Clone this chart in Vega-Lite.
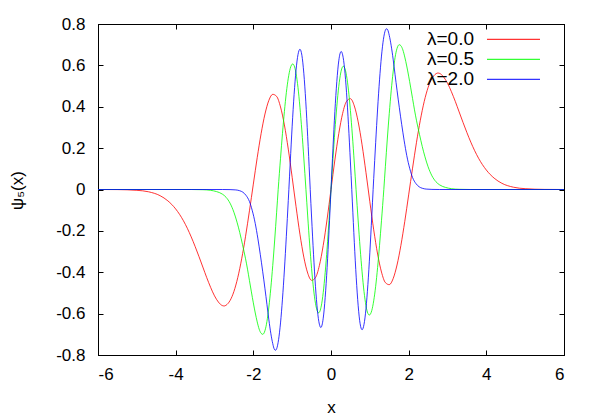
{
  "$schema": "https://vega.github.io/schema/vega-lite/v6.json",
  "width": 466,
  "height": 331,
  "autosize": {"type": "none"},
  "padding": {"left": 98, "top": 24, "right": 36, "bottom": 65},
  "background": "white",
  "config": {
    "view": {"stroke": "black", "strokeWidth": 1},
    "font": "Liberation Sans",
    "axis": {
      "grid": false,
      "domainColor": "black",
      "tickColor": "black",
      "tickSize": -5,
      "labelFont": "Liberation Sans",
      "labelFontSize": 17,
      "labelColor": "black",
      "titleFont": "Liberation Sans",
      "titleFontSize": 17,
      "titleFontWeight": "normal",
      "titleColor": "black"
    },
    "legend": {
      "orient": "none",
      "legendX": 405.5,
      "legendY": 5.3,
      "padding": 0,
      "title": null,
      "symbolType": "M-2.79,0H2.79",
      "symbolSize": 361,
      "symbolStrokeWidth": 1,
      "labelAlign": "right",
      "labelOffset": -49.5,
      "labelFont": "Liberation Sans",
      "labelFontSize": 19,
      "labelColor": "black",
      "labelLimit": 0,
      "rowPadding": 0
    }
  },
  "data": {"values": [
    {"s":"λ=0.0","x":-6,"y":0},{"s":"λ=0.0","x":-5.5,"y":-0.0005},{"s":"λ=0.0","x":-5,"y":-0.004},{"s":"λ=0.0","x":-4.7,"y":-0.011},{"s":"λ=0.0","x":-4.4,"y":-0.03},{"s":"λ=0.0","x":-4.2,"y":-0.055},{"s":"λ=0.0","x":-4,"y":-0.094},{"s":"λ=0.0","x":-3.8,"y":-0.151},{"s":"λ=0.0","x":-3.6,"y":-0.229},{"s":"λ=0.0","x":-3.5,"y":-0.275},{"s":"λ=0.0","x":-3.4,"y":-0.324},{"s":"λ=0.0","x":-3.3,"y":-0.375},{"s":"λ=0.0","x":-3.2,"y":-0.426},{"s":"λ=0.0","x":-3.1,"y":-0.473},{"s":"λ=0.0","x":-3,"y":-0.514},{"s":"λ=0.0","x":-2.9,"y":-0.544},{"s":"λ=0.0","x":-2.8,"y":-0.561},{"s":"λ=0.0","x":-2.75,"y":-0.563},{"s":"λ=0.0","x":-2.7,"y":-0.559},{"s":"λ=0.0","x":-2.6,"y":-0.537},{"s":"λ=0.0","x":-2.5,"y":-0.493},{"s":"λ=0.0","x":-2.4,"y":-0.425},{"s":"λ=0.0","x":-2.3,"y":-0.335},{"s":"λ=0.0","x":-2.2,"y":-0.226},{"s":"λ=0.0","x":-2.1,"y":-0.103},{"s":"λ=0.0","x":-2,"y":0.026},{"s":"λ=0.0","x":-1.9,"y":0.154},{"s":"λ=0.0","x":-1.8,"y":0.27},{"s":"λ=0.0","x":-1.7,"y":0.365},{"s":"λ=0.0","x":-1.6,"y":0.431},{"s":"λ=0.0","x":-1.5,"y":0.46},{"s":"λ=0.0","x":-1.4,"y":0.45},{"s":"λ=0.0","x":-1.3,"y":0.399},{"s":"λ=0.0","x":-1.2,"y":0.312},{"s":"λ=0.0","x":-1.1,"y":0.195},{"s":"λ=0.0","x":-1,"y":0.059},{"s":"λ=0.0","x":-0.9,"y":-0.083},{"s":"λ=0.0","x":-0.8,"y":-0.216},{"s":"λ=0.0","x":-0.7,"y":-0.327},{"s":"λ=0.0","x":-0.6,"y":-0.404},{"s":"λ=0.0","x":-0.5,"y":-0.439},{"s":"λ=0.0","x":-0.4,"y":-0.426},{"s":"λ=0.0","x":-0.3,"y":-0.368},{"s":"λ=0.0","x":-0.2,"y":-0.27},{"s":"λ=0.0","x":-0.1,"y":-0.143},{"s":"λ=0.0","x":0,"y":0},{"s":"λ=0.0","x":0.1,"y":0.143},{"s":"λ=0.0","x":0.2,"y":0.27},{"s":"λ=0.0","x":0.3,"y":0.368},{"s":"λ=0.0","x":0.4,"y":0.426},{"s":"λ=0.0","x":0.5,"y":0.439},{"s":"λ=0.0","x":0.6,"y":0.404},{"s":"λ=0.0","x":0.7,"y":0.327},{"s":"λ=0.0","x":0.8,"y":0.216},{"s":"λ=0.0","x":0.9,"y":0.083},{"s":"λ=0.0","x":1,"y":-0.059},{"s":"λ=0.0","x":1.1,"y":-0.195},{"s":"λ=0.0","x":1.2,"y":-0.312},{"s":"λ=0.0","x":1.3,"y":-0.399},{"s":"λ=0.0","x":1.4,"y":-0.45},{"s":"λ=0.0","x":1.5,"y":-0.46},{"s":"λ=0.0","x":1.6,"y":-0.431},{"s":"λ=0.0","x":1.7,"y":-0.365},{"s":"λ=0.0","x":1.8,"y":-0.27},{"s":"λ=0.0","x":1.9,"y":-0.154},{"s":"λ=0.0","x":2,"y":-0.026},{"s":"λ=0.0","x":2.1,"y":0.103},{"s":"λ=0.0","x":2.2,"y":0.226},{"s":"λ=0.0","x":2.3,"y":0.335},{"s":"λ=0.0","x":2.4,"y":0.425},{"s":"λ=0.0","x":2.5,"y":0.493},{"s":"λ=0.0","x":2.6,"y":0.537},{"s":"λ=0.0","x":2.7,"y":0.559},{"s":"λ=0.0","x":2.75,"y":0.563},{"s":"λ=0.0","x":2.8,"y":0.561},{"s":"λ=0.0","x":2.9,"y":0.544},{"s":"λ=0.0","x":3,"y":0.514},{"s":"λ=0.0","x":3.1,"y":0.473},{"s":"λ=0.0","x":3.2,"y":0.426},{"s":"λ=0.0","x":3.3,"y":0.375},{"s":"λ=0.0","x":3.4,"y":0.324},{"s":"λ=0.0","x":3.5,"y":0.275},{"s":"λ=0.0","x":3.6,"y":0.229},{"s":"λ=0.0","x":3.8,"y":0.151},{"s":"λ=0.0","x":4,"y":0.094},{"s":"λ=0.0","x":4.2,"y":0.055},{"s":"λ=0.0","x":4.4,"y":0.03},{"s":"λ=0.0","x":4.7,"y":0.011},{"s":"λ=0.0","x":5,"y":0.004},{"s":"λ=0.0","x":5.5,"y":0.0005},{"s":"λ=0.0","x":6,"y":0},

    {"s":"λ=0.5","x":-6,"y":0},{"s":"λ=0.5","x":-3.6,"y":0},{"s":"λ=0.5","x":-3.3,"y":-0.001},{"s":"λ=0.5","x":-3.1,"y":-0.004},{"s":"λ=0.5","x":-2.95,"y":-0.01},{"s":"λ=0.5","x":-2.8,"y":-0.022},{"s":"λ=0.5","x":-2.7,"y":-0.038},{"s":"λ=0.5","x":-2.6,"y":-0.066},{"s":"λ=0.5","x":-2.5,"y":-0.11},{"s":"λ=0.5","x":-2.42,"y":-0.158},{"s":"λ=0.5","x":-2.35,"y":-0.208},{"s":"λ=0.5","x":-2.28,"y":-0.265},{"s":"λ=0.5","x":-2.2,"y":-0.335},{"s":"λ=0.5","x":-2.15,"y":-0.385},{"s":"λ=0.5","x":-2.1,"y":-0.44},{"s":"λ=0.5","x":-2.05,"y":-0.495},{"s":"λ=0.5","x":-2,"y":-0.548},{"s":"λ=0.5","x":-1.95,"y":-0.597},{"s":"λ=0.5","x":-1.9,"y":-0.64},{"s":"λ=0.5","x":-1.85,"y":-0.675},{"s":"λ=0.5","x":-1.8,"y":-0.695},{"s":"λ=0.5","x":-1.758,"y":-0.7},{"s":"λ=0.5","x":-1.7,"y":-0.682},{"s":"λ=0.5","x":-1.65,"y":-0.638},{"s":"λ=0.5","x":-1.6,"y":-0.568},{"s":"λ=0.5","x":-1.55,"y":-0.477},{"s":"λ=0.5","x":-1.5,"y":-0.367},{"s":"λ=0.5","x":-1.45,"y":-0.244},{"s":"λ=0.5","x":-1.4,"y":-0.11},{"s":"λ=0.5","x":-1.36,"y":0},{"s":"λ=0.5","x":-1.3,"y":0.151},{"s":"λ=0.5","x":-1.25,"y":0.27},{"s":"λ=0.5","x":-1.2,"y":0.377},{"s":"λ=0.5","x":-1.15,"y":0.468},{"s":"λ=0.5","x":-1.1,"y":0.538},{"s":"λ=0.5","x":-1.05,"y":0.585},{"s":"λ=0.5","x":-0.985,"y":0.607},{"s":"λ=0.5","x":-0.95,"y":0.599},{"s":"λ=0.5","x":-0.9,"y":0.561},{"s":"λ=0.5","x":-0.85,"y":0.493},{"s":"λ=0.5","x":-0.8,"y":0.398},{"s":"λ=0.5","x":-0.75,"y":0.283},{"s":"λ=0.5","x":-0.7,"y":0.152},{"s":"λ=0.5","x":-0.645,"y":0},{"s":"λ=0.5","x":-0.6,"y":-0.128},{"s":"λ=0.5","x":-0.55,"y":-0.263},{"s":"λ=0.5","x":-0.5,"y":-0.382},{"s":"λ=0.5","x":-0.45,"y":-0.48},{"s":"λ=0.5","x":-0.4,"y":-0.55},{"s":"λ=0.5","x":-0.35,"y":-0.589},{"s":"λ=0.5","x":-0.318,"y":-0.596},{"s":"λ=0.5","x":-0.25,"y":-0.563},{"s":"λ=0.5","x":-0.2,"y":-0.498},{"s":"λ=0.5","x":-0.15,"y":-0.402},{"s":"λ=0.5","x":-0.1,"y":-0.283},{"s":"λ=0.5","x":-0.05,"y":-0.146},{"s":"λ=0.5","x":0,"y":0},{"s":"λ=0.5","x":0.05,"y":0.146},{"s":"λ=0.5","x":0.1,"y":0.283},{"s":"λ=0.5","x":0.15,"y":0.402},{"s":"λ=0.5","x":0.2,"y":0.498},{"s":"λ=0.5","x":0.25,"y":0.563},{"s":"λ=0.5","x":0.318,"y":0.596},{"s":"λ=0.5","x":0.35,"y":0.589},{"s":"λ=0.5","x":0.4,"y":0.55},{"s":"λ=0.5","x":0.45,"y":0.48},{"s":"λ=0.5","x":0.5,"y":0.382},{"s":"λ=0.5","x":0.55,"y":0.263},{"s":"λ=0.5","x":0.6,"y":0.128},{"s":"λ=0.5","x":0.645,"y":0},{"s":"λ=0.5","x":0.7,"y":-0.152},{"s":"λ=0.5","x":0.75,"y":-0.283},{"s":"λ=0.5","x":0.8,"y":-0.398},{"s":"λ=0.5","x":0.85,"y":-0.493},{"s":"λ=0.5","x":0.9,"y":-0.561},{"s":"λ=0.5","x":0.95,"y":-0.599},{"s":"λ=0.5","x":0.985,"y":-0.607},{"s":"λ=0.5","x":1.05,"y":-0.585},{"s":"λ=0.5","x":1.1,"y":-0.538},{"s":"λ=0.5","x":1.15,"y":-0.468},{"s":"λ=0.5","x":1.2,"y":-0.377},{"s":"λ=0.5","x":1.25,"y":-0.27},{"s":"λ=0.5","x":1.3,"y":-0.151},{"s":"λ=0.5","x":1.36,"y":0},{"s":"λ=0.5","x":1.4,"y":0.11},{"s":"λ=0.5","x":1.45,"y":0.244},{"s":"λ=0.5","x":1.5,"y":0.367},{"s":"λ=0.5","x":1.55,"y":0.477},{"s":"λ=0.5","x":1.6,"y":0.568},{"s":"λ=0.5","x":1.65,"y":0.638},{"s":"λ=0.5","x":1.7,"y":0.682},{"s":"λ=0.5","x":1.758,"y":0.7},{"s":"λ=0.5","x":1.8,"y":0.695},{"s":"λ=0.5","x":1.85,"y":0.675},{"s":"λ=0.5","x":1.9,"y":0.64},{"s":"λ=0.5","x":1.95,"y":0.597},{"s":"λ=0.5","x":2,"y":0.548},{"s":"λ=0.5","x":2.05,"y":0.495},{"s":"λ=0.5","x":2.1,"y":0.44},{"s":"λ=0.5","x":2.15,"y":0.385},{"s":"λ=0.5","x":2.2,"y":0.335},{"s":"λ=0.5","x":2.28,"y":0.265},{"s":"λ=0.5","x":2.35,"y":0.208},{"s":"λ=0.5","x":2.42,"y":0.158},{"s":"λ=0.5","x":2.5,"y":0.11},{"s":"λ=0.5","x":2.6,"y":0.066},{"s":"λ=0.5","x":2.7,"y":0.038},{"s":"λ=0.5","x":2.8,"y":0.022},{"s":"λ=0.5","x":2.95,"y":0.01},{"s":"λ=0.5","x":3.1,"y":0.004},{"s":"λ=0.5","x":3.3,"y":0.001},{"s":"λ=0.5","x":3.6,"y":0},{"s":"λ=0.5","x":6,"y":0},

    {"s":"λ=2.0","x":-6,"y":0},{"s":"λ=2.0","x":-2.8,"y":0},{"s":"λ=2.0","x":-2.6,"y":-0.0005},{"s":"λ=2.0","x":-2.45,"y":-0.002},{"s":"λ=2.0","x":-2.35,"y":-0.006},{"s":"λ=2.0","x":-2.27,"y":-0.013},{"s":"λ=2.0","x":-2.19,"y":-0.028},{"s":"λ=2.0","x":-2.1,"y":-0.058},{"s":"λ=2.0","x":-2.03,"y":-0.1},{"s":"λ=2.0","x":-1.95,"y":-0.165},{"s":"λ=2.0","x":-1.885,"y":-0.235},{"s":"λ=2.0","x":-1.82,"y":-0.315},{"s":"λ=2.0","x":-1.76,"y":-0.395},{"s":"λ=2.0","x":-1.7,"y":-0.48},{"s":"λ=2.0","x":-1.65,"y":-0.555},{"s":"λ=2.0","x":-1.6,"y":-0.63},{"s":"λ=2.0","x":-1.55,"y":-0.695},{"s":"λ=2.0","x":-1.5,"y":-0.745},{"s":"λ=2.0","x":-1.46,"y":-0.772},{"s":"λ=2.0","x":-1.43,"y":-0.777},{"s":"λ=2.0","x":-1.4,"y":-0.77},{"s":"λ=2.0","x":-1.35,"y":-0.726},{"s":"λ=2.0","x":-1.3,"y":-0.645},{"s":"λ=2.0","x":-1.25,"y":-0.53},{"s":"λ=2.0","x":-1.2,"y":-0.389},{"s":"λ=2.0","x":-1.15,"y":-0.226},{"s":"λ=2.0","x":-1.1,"y":-0.053},{"s":"λ=2.0","x":-1.085,"y":0},{"s":"λ=2.0","x":-1.05,"y":0.129},{"s":"λ=2.0","x":-1,"y":0.306},{"s":"λ=2.0","x":-0.95,"y":0.459},{"s":"λ=2.0","x":-0.9,"y":0.578},{"s":"λ=2.0","x":-0.85,"y":0.652},{"s":"λ=2.0","x":-0.8,"y":0.678},{"s":"λ=2.0","x":-0.75,"y":0.649},{"s":"λ=2.0","x":-0.7,"y":0.562},{"s":"λ=2.0","x":-0.65,"y":0.427},{"s":"λ=2.0","x":-0.6,"y":0.255},{"s":"λ=2.0","x":-0.55,"y":0.06},{"s":"λ=2.0","x":-0.535,"y":0},{"s":"λ=2.0","x":-0.5,"y":-0.133},{"s":"λ=2.0","x":-0.45,"y":-0.313},{"s":"λ=2.0","x":-0.4,"y":-0.468},{"s":"λ=2.0","x":-0.35,"y":-0.584},{"s":"λ=2.0","x":-0.3,"y":-0.651},{"s":"λ=2.0","x":-0.262,"y":-0.667},{"s":"λ=2.0","x":-0.2,"y":-0.622},{"s":"λ=2.0","x":-0.15,"y":-0.522},{"s":"λ=2.0","x":-0.1,"y":-0.377},{"s":"λ=2.0","x":-0.05,"y":-0.197},{"s":"λ=2.0","x":0,"y":0},{"s":"λ=2.0","x":0.05,"y":0.197},{"s":"λ=2.0","x":0.1,"y":0.377},{"s":"λ=2.0","x":0.15,"y":0.522},{"s":"λ=2.0","x":0.2,"y":0.622},{"s":"λ=2.0","x":0.262,"y":0.667},{"s":"λ=2.0","x":0.3,"y":0.651},{"s":"λ=2.0","x":0.35,"y":0.584},{"s":"λ=2.0","x":0.4,"y":0.468},{"s":"λ=2.0","x":0.45,"y":0.313},{"s":"λ=2.0","x":0.5,"y":0.133},{"s":"λ=2.0","x":0.535,"y":0},{"s":"λ=2.0","x":0.55,"y":-0.06},{"s":"λ=2.0","x":0.6,"y":-0.255},{"s":"λ=2.0","x":0.65,"y":-0.427},{"s":"λ=2.0","x":0.7,"y":-0.562},{"s":"λ=2.0","x":0.75,"y":-0.649},{"s":"λ=2.0","x":0.8,"y":-0.678},{"s":"λ=2.0","x":0.85,"y":-0.652},{"s":"λ=2.0","x":0.9,"y":-0.578},{"s":"λ=2.0","x":0.95,"y":-0.459},{"s":"λ=2.0","x":1,"y":-0.306},{"s":"λ=2.0","x":1.05,"y":-0.129},{"s":"λ=2.0","x":1.085,"y":0},{"s":"λ=2.0","x":1.1,"y":0.053},{"s":"λ=2.0","x":1.15,"y":0.226},{"s":"λ=2.0","x":1.2,"y":0.389},{"s":"λ=2.0","x":1.25,"y":0.53},{"s":"λ=2.0","x":1.3,"y":0.645},{"s":"λ=2.0","x":1.35,"y":0.726},{"s":"λ=2.0","x":1.4,"y":0.77},{"s":"λ=2.0","x":1.43,"y":0.777},{"s":"λ=2.0","x":1.46,"y":0.772},{"s":"λ=2.0","x":1.5,"y":0.745},{"s":"λ=2.0","x":1.55,"y":0.695},{"s":"λ=2.0","x":1.6,"y":0.63},{"s":"λ=2.0","x":1.65,"y":0.555},{"s":"λ=2.0","x":1.7,"y":0.48},{"s":"λ=2.0","x":1.76,"y":0.395},{"s":"λ=2.0","x":1.82,"y":0.315},{"s":"λ=2.0","x":1.885,"y":0.235},{"s":"λ=2.0","x":1.95,"y":0.165},{"s":"λ=2.0","x":2.03,"y":0.1},{"s":"λ=2.0","x":2.1,"y":0.058},{"s":"λ=2.0","x":2.19,"y":0.028},{"s":"λ=2.0","x":2.27,"y":0.013},{"s":"λ=2.0","x":2.35,"y":0.006},{"s":"λ=2.0","x":2.45,"y":0.002},{"s":"λ=2.0","x":2.6,"y":0.0005},{"s":"λ=2.0","x":2.8,"y":0},{"s":"λ=2.0","x":6,"y":0}
  ]},
  "layer": [
    {
      "mark": {"type": "line", "interpolate": "monotone", "strokeWidth": 1, "strokeOpacity": 0.8, "clip": true},
      "encoding": {
        "x": {
          "field": "x", "type": "quantitative",
          "scale": {"domain": [-6, 6], "nice": false, "zero": false},
          "axis": {
            "values": [-6, -4, -2, 0, 2, 4, 6],
            "labelExpr": "(datum.value < 0 ? '-' : '') + format(abs(datum.value), 'd')",
            "labelPadding": 16,
            "title": "x",
            "titleX": 233,
            "titleY": 52,
            "titleBaseline": "middle"
          }
        },
        "y": {
          "field": "y", "type": "quantitative",
          "scale": {"domain": [-0.8, 0.8], "nice": false, "zero": false},
          "axis": {
            "values": [-0.8, -0.6, -0.4, -0.2, 0, 0.2, 0.4, 0.6, 0.8],
            "labelExpr": "datum.value == 0 ? '0' : (datum.value < 0 ? '-' : '') + format(abs(datum.value), '.1f')",
            "labelPadding": 18,
            "title": "ψ₅(x)",
            "titleX": -81,
            "titleY": 166,
            "titleAngle": -90,
            "titleAlign": "center",
            "titleBaseline": "middle"
          }
        },
        "color": {
          "field": "s", "type": "nominal",
          "scale": {"domain": ["λ=0.0", "λ=0.5", "λ=2.0"], "range": ["#ff0000", "#00ff00", "#0000ff"]},
          "legend": {}
        }
      }
    },
    {
      "mark": {"type": "line", "opacity": 0},
      "encoding": {
        "x": {
          "field": "x", "type": "quantitative",
          "axis": {"orient": "top", "values": [-6, -4, -2, 0, 2, 4, 6], "labels": false, "title": null}
        },
        "y": {
          "field": "y", "type": "quantitative",
          "axis": {"orient": "right", "values": [-0.8, -0.6, -0.4, -0.2, 0, 0.2, 0.4, 0.6, 0.8], "labels": false, "title": null}
        },
        "detail": {"field": "s"}
      }
    }
  ],
  "resolve": {"axis": {"x": "independent", "y": "independent"}}
}
